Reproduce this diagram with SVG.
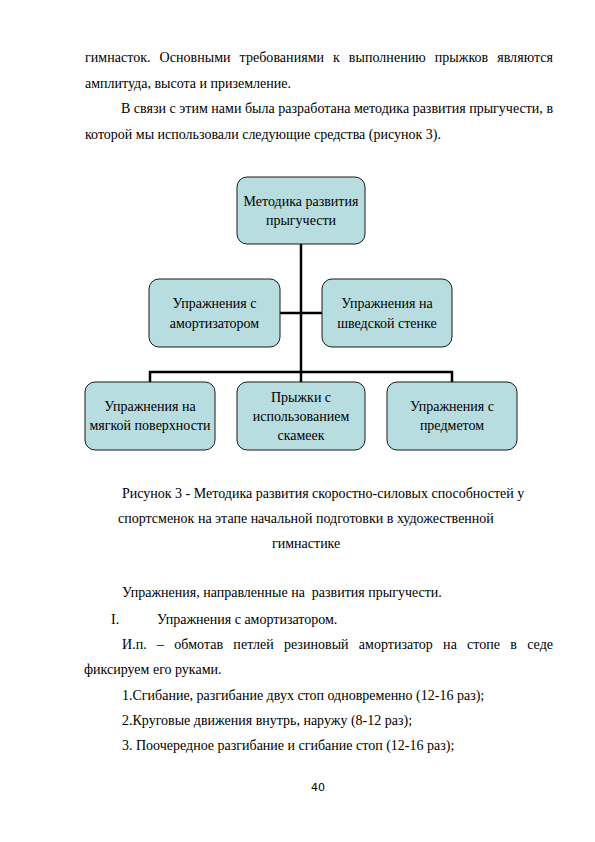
<svg xmlns="http://www.w3.org/2000/svg" width="595" height="842" viewBox="0 0 595 842">
<style>
.body{font-family:"Liberation Serif","Times New Roman",serif;font-size:14px;fill:#000}
.box{fill:#b7dde0;stroke:#1a1a1a;stroke-width:1}
.lbl{font-family:"Liberation Serif","Times New Roman",serif;font-size:14px;fill:#000;text-anchor:middle}
.conn{stroke:#000;stroke-width:2.5;fill:none}
.pg{font-family:"DejaVu Sans",sans-serif;font-size:11px;fill:#000;text-anchor:middle}
</style>
<rect width="595" height="842" fill="#fff"/>
<g id="text-top">
<text class="body" x="85" y="62" word-spacing="5.4" textLength="468" lengthAdjust="spacing">гимнасток. Основными требованиями к выполнению прыжков являются</text>
<text class="body" x="85" y="88">амплитуда, высота и приземление.</text>
<text class="body" x="121" y="113" textLength="432" lengthAdjust="spacing">В связи с этим нами была разработана методика развития прыгучести, в</text>
<text class="body" x="85" y="139">которой мы использовали следующие средства (рисунок 3).</text>
</g>
<g id="connectors">
<path class="conn" d="M301,244 V372"/>
<path class="conn" d="M280,313 H322"/>
<path class="conn" d="M150,382 V372 H452 V382"/>
<path class="conn" d="M301,372 V382"/>
</g>
<g id="node-root">
<rect class="box" x="237" y="177" width="128" height="67" rx="10"/>
<text class="lbl" x="301" y="206">Методика развития</text>
<text class="lbl" x="301" y="225">прыгучести</text>
</g>
<g id="node-amort">
<rect class="box" x="149" y="279" width="131" height="68" rx="10"/>
<text class="lbl" x="214.5" y="308">Упражнения с</text>
<text class="lbl" x="214.5" y="328">амортизатором</text>
</g>
<g id="node-wall">
<rect class="box" x="322" y="279" width="130" height="68" rx="10"/>
<text class="lbl" x="387" y="308">Упражнения на</text>
<text class="lbl" x="387" y="328">шведской стенке</text>
</g>
<g id="node-soft">
<rect class="box" x="85" y="382" width="130" height="68" rx="10"/>
<text class="lbl" x="150" y="411">Упражнения на</text>
<text class="lbl" x="150" y="430">мягкой поверхности</text>
</g>
<g id="node-bench">
<rect class="box" x="237" y="382" width="128" height="68" rx="10"/>
<text class="lbl" x="301" y="402">Прыжки с</text>
<text class="lbl" x="301" y="421">использованием</text>
<text class="lbl" x="301" y="440">скамеек</text>
</g>
<g id="node-object">
<rect class="box" x="387" y="382" width="130" height="68" rx="10"/>
<text class="lbl" x="452" y="411">Упражнения с</text>
<text class="lbl" x="452" y="430">предметом</text>
</g>
<g id="caption">
<text class="body" x="122" y="498">Рисунок 3 - Методика развития скоростно-силовых способностей у</text>
<text class="body" x="118" y="523">спортсменок на этапе начальной подготовки в художественной</text>
<text class="body" x="272" y="548">гимнастике</text>
</g>
<g id="text-bottom">
<text class="body" x="122" y="597" xml:space="preserve">Упражнения, направленные на  развития прыгучести.</text>
<text class="body" x="111" y="624">I.</text>
<text class="body" x="157" y="624">Упражнения с амортизатором.</text>
<text class="body" x="122" y="649" word-spacing="6.7" textLength="431" lengthAdjust="spacing">И.п. – обмотав петлей резиновый амортизатор на стопе в седе</text>
<text class="body" x="84" y="674">фиксируем его руками.</text>
<text class="body" x="122" y="700">1.Сгибание, разгибание двух стоп одновременно (12-16 раз);</text>
<text class="body" x="122" y="725">2.Круговые движения внутрь, наружу (8-12 раз);</text>
<text class="body" x="122" y="750">3. Поочередное разгибание и сгибание стоп (12-16 раз);</text>
</g>
<text class="pg" x="318" y="791">40</text>
</svg>
